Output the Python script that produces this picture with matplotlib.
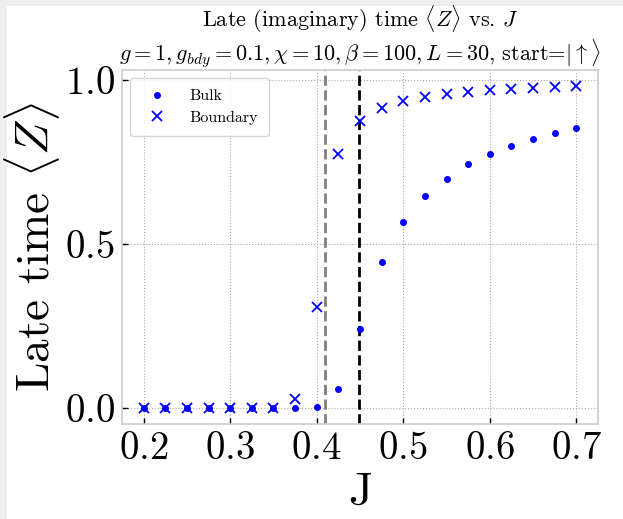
import matplotlib
matplotlib.use("Agg")
import matplotlib.pyplot as plt
from matplotlib.patches import Rectangle

plt.rcParams.update({
    "font.family": "serif",
    "font.serif": ["cmr10", "DejaVu Serif"],
    "mathtext.fontset": "cm",
    "axes.unicode_minus": False,
    "axes.formatter.use_mathtext": True,
})

# Coupling values J and late-time magnetisation
J = [0.200, 0.225, 0.250, 0.275, 0.300, 0.325, 0.350, 0.375, 0.400, 0.425, 0.450,
     0.475, 0.500, 0.525, 0.550, 0.575, 0.600, 0.625, 0.650, 0.675, 0.700]
bulk = [0.0, 0.0, 0.0, 0.0, 0.0, 0.0, 0.0, 0.0, 0.003, 0.057, 0.241,
        0.445, 0.567, 0.646, 0.700, 0.744, 0.774, 0.799, 0.820, 0.838, 0.853]
boundary = [0.0, 0.0, 0.0, 0.0, 0.0, 0.0, 0.0, 0.026, 0.308, 0.774, 0.875,
            0.915, 0.936, 0.948, 0.957, 0.963, 0.970, 0.973, 0.976, 0.979, 0.982]
J_gray = 0.41
J_black = 0.4486

fig = plt.figure(figsize=(6.23, 5.19), dpi=100, facecolor="#eeeeee")
fig.patches.append(Rectangle((7 / 623, 0), 1, 1 - 6 / 519, transform=fig.transFigure,
                             facecolor="white", edgecolor="none", zorder=-10))
ax = fig.add_axes([122 / 623, 95 / 519, 476 / 623, 354 / 519])

ax.plot(J, bulk, "o", color="blue", markersize=4, label="Bulk", zorder=3)
ax.plot(J, boundary, "x", color="blue", markersize=7, markeredgewidth=1.3,
        label="Boundary", zorder=3)
ax.axvline(J_gray, color="gray", linestyle="--", linewidth=2)
ax.axvline(J_black, color="black", linestyle="--", linewidth=2)

ax.grid(True, linestyle=":", color="#aaaaaa", linewidth=0.8)
ax.set_axisbelow(True)
for s in ax.spines.values():
    s.set_color("#cccccc")
    s.set_linewidth(1.2)
ax.tick_params(direction="in", length=4, width=1, color="black", labelsize=28, pad=5)
ax.set_xticks([0.2, 0.3, 0.4, 0.5, 0.6, 0.7])
ax.set_yticks([0.0, 0.5, 1.0])

ax.set_xlabel("J", fontsize=34, labelpad=4)
ax.set_ylabel(r"Late time $\langle Z\rangle$", fontsize=34, labelpad=2)
ax.set_title("Late (imaginary) time $\\langle Z\\rangle$ vs. $J$\n"
             "$g=1, g_{bdy}=0.1, \\chi=10, \\beta=100, L=30$, start=$|\\uparrow\\rangle$",
             fontsize=16, pad=3, linespacing=1.08)

leg = ax.legend(loc="upper left", fontsize=11.5, frameon=True, fancybox=True,
                edgecolor="#cccccc", borderpad=0.7, handletextpad=1.0,
                labelspacing=0.45)

fig.savefig("out.png", dpi=100, facecolor=fig.get_facecolor())
